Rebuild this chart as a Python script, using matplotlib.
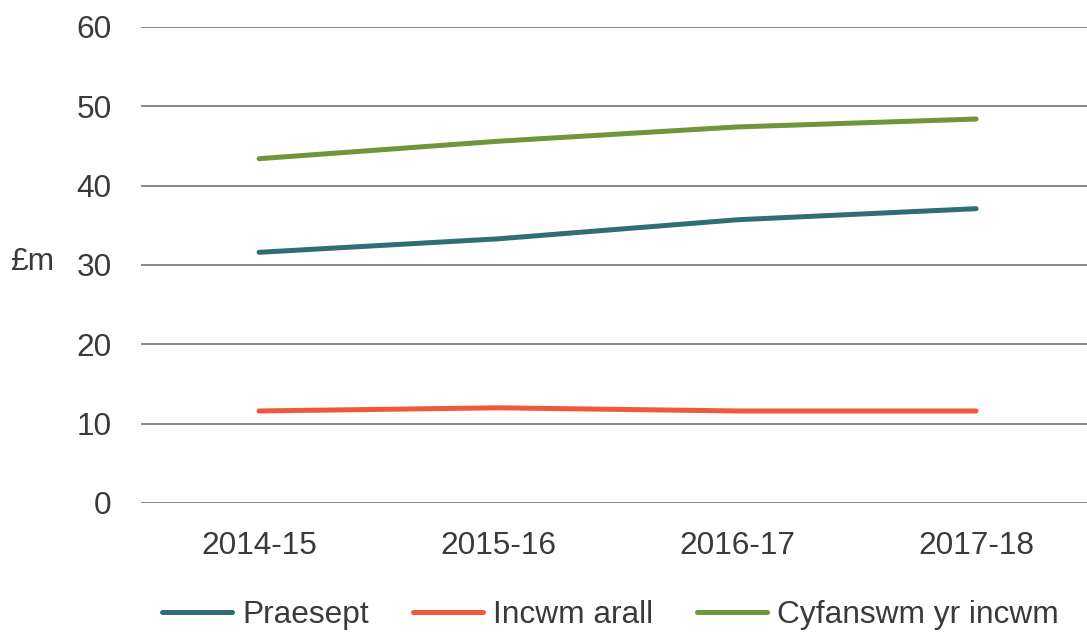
import matplotlib
matplotlib.use("Agg")
import matplotlib.pyplot as plt

categories = ["2014-15", "2015-16", "2016-17", "2017-18"]
praesept = [31.6, 33.3, 35.7, 37.1]
incwm_arall = [11.6, 12.0, 11.6, 11.6]
cyfanswm = [43.4, 45.6, 47.4, 48.4]
series_names = ["Praesept", "Incwm arall", "Cyfanswm yr incwm"]
yticks = [0, 10, 20, 30, 40, 50, 60]

plt.rcParams['font.family'] = ['Liberation Sans', 'DejaVu Sans']
text_color = "#3a3a3a"
fs = 22.8

fig = plt.figure(figsize=(10.87, 6.33), dpi=100)
ax = fig.add_axes([141/1087, 1 - 503/633, 1 - 141/1087, (503 - 27)/633])

x = list(range(len(categories)))
colors = ["#2f6f73", "#f0573b", "#72943a"]
for vals, name, c in zip([praesept, incwm_arall, cyfanswm], series_names, colors):
    ax.plot(x, vals, color=c, lw=3.6, solid_capstyle='round', label=name)

ax.set_ylim(0, 60)
ax.set_xlim(-0.494, 3.464)
ax.set_yticks(yticks)
ax.set_xticks(x)
ax.set_xticklabels(categories)
ax.yaxis.grid(True, color="#888888", lw=1.4)
ax.set_axisbelow(True)
for s in ax.spines.values():
    s.set_visible(False)
ax.tick_params(axis='both', length=0, labelsize=fs, colors=text_color)
ax.tick_params(axis='y', pad=21)
ax.tick_params(axis='x', pad=20)

fig.text(10/1087, 1 - 262/633, "£m", fontsize=fs, color=text_color, va='center', ha='left')

leg = fig.legend(loc='center', bbox_to_anchor=(610.5/1087, 1 - 615/633), ncol=3, frameon=False,
                 fontsize=fs, handlelength=2.2, handletextpad=0.32, columnspacing=1.4,
                 borderaxespad=0, borderpad=0)
for t in leg.get_texts():
    t.set_color(text_color)

fig.savefig("out.png", dpi=100)
